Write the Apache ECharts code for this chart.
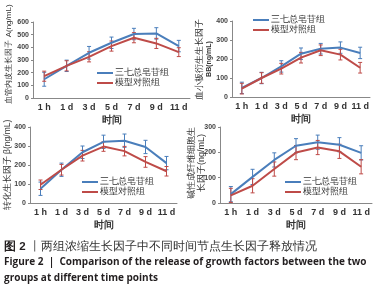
<!DOCTYPE html>
<html>
<head>
<meta charset="utf-8">
<script src="https://cdn.jsdelivr.net/npm/echarts@6/dist/echarts.min.js"></script>
<style>
html, body { margin: 0; padding: 0; background: #fff; }
#wrap { position: relative; width: 380px; height: 292px; }
#main, #text { position: absolute; left: 0; top: 0; width: 380px; height: 292px; }
#text { pointer-events: none; }
</style>
</head>
<body>
<div id="wrap">
  <div id="main"></div>
  <div id="text"></div>
</div>
<script>
var times = ['1 h', '1 d', '3 d', '5 d', '7 d', '9 d', '11 d'];
var groupNames = ['三七总皂苷组', '模型对照组'];

// VEGF-A
var vegfBlue = [148, 254, 357, 436, 505, 510, 410];
var vegfBlueErr = [55, 45, 50, 45, 45, 45, 45];
var vegfRed = [172, 254, 325, 410, 476, 431, 362];
var vegfRedErr = [40, 40, 40, 40, 40, 40, 35];
// PDGF-BB
var pdgfBlue = [48, 100, 161, 228, 254, 260, 232];
var pdgfBlueErr = [30, 30, 30, 30, 28, 30, 30];
var pdgfRed = [44, 100, 149, 207, 246, 223, 154];
var pdgfRedErr = [28, 28, 28, 28, 28, 28, 28];
// TGF-β
var tgfBlue = [75, 175, 267, 322, 328, 295, 210];
var tgfBlueErr = [35, 35, 33, 35, 35, 35, 35];
var tgfRed = [96, 175, 249, 297, 273, 216, 167];
var tgfRedErr = [25, 28, 28, 25, 25, 28, 25];
// bFGF
var fgfBlue = [35, 103, 170, 226, 240, 230, 198];
var fgfBlueErr = [30, 30, 28, 28, 28, 28, 28];
var fgfRed = [30, 68, 134, 199, 219, 204, 143];
var fgfRedErr = [28, 28, 28, 28, 28, 28, 28];

var yMax = [600, 400, 400, 300];
var yNames = [
  '{s|血管内皮生长因子 A(ng/mL)}',
  '{a|血小板衍生生长因子}\n{b|BB(ng/mL)}',
  '{m|转化生长因子 β(ng/mL)}',
  '{a|碱性成纤维细胞生}\n{a|长因子(ng/mL)}'
];
var yNamePos = [[9, 54], [204, 59], [8, 165], [197, 163]];

var blue = '#4a7ebb';
var red = '#be4b48';

var grids = [
  { left: 33, top: 22, width: 157, height: 76 },
  { left: 232, top: 21, width: 138, height: 76 },
  { left: 30, top: 127, width: 147, height: 76 },
  { left: 220, top: 127, width: 152, height: 76 }
];

var panels = [
  [vegfBlue, vegfBlueErr, vegfRed, vegfRedErr],
  [pdgfBlue, pdgfBlueErr, pdgfRed, pdgfRedErr],
  [tgfBlue, tgfBlueErr, tgfRed, tgfRedErr],
  [fgfBlue, fgfBlueErr, fgfRed, fgfRedErr]
];

function errData(vals, errs) {
  return vals.map(function (v, i) { return [i, v - errs[i], v + errs[i]]; });
}

function renderErr(params, api) {
  var lo = api.coord([api.value(0), api.value(1)]);
  var hi = api.coord([api.value(0), api.value(2)]);
  var c = api.visual('color');
  var w = 2;
  var st = { stroke: c, lineWidth: 1 };
  return {
    type: 'group',
    children: [
      { type: 'line', shape: { x1: lo[0], y1: lo[1], x2: hi[0], y2: hi[1] }, style: st },
      { type: 'line', shape: { x1: lo[0] - w, y1: lo[1], x2: lo[0] + w, y2: lo[1] }, style: st },
      { type: 'line', shape: { x1: hi[0] - w, y1: hi[1], x2: hi[0] + w, y2: hi[1] }, style: st }
    ]
  };
}

var xAxes = [], yAxes = [], series = [];
for (var p = 0; p < 4; p++) {
  xAxes.push({
    gridIndex: p,
    type: 'category',
    data: times,
    name: '时间',
    nameLocation: 'middle',
    nameGap: 17,
    nameTextStyle: { fontSize: 10, fontWeight: 'bold', color: '#333' },
    axisLine: { lineStyle: { color: '#888' } },
    axisTick: { length: 3, lineStyle: { color: '#888' } },
    axisLabel: { fontSize: 9, fontWeight: 'bold', color: '#333', margin: 5, interval: 0 }
  });
  yAxes.push({
    gridIndex: p,
    type: 'value',
    min: 0,
    max: yMax[p],
    interval: 100,
    axisLine: { show: true, lineStyle: { color: '#888' } },
    axisTick: { show: true, length: 2, lineStyle: { color: '#888' } },
    splitLine: { show: false },
    axisLabel: { show: true, hideOverlap: false, fontSize: 7, fontWeight: 'bold', color: '#444', margin: 4 }
  });
  var d = panels[p];
  series.push({
    name: groupNames[0], type: 'line', xAxisIndex: p, yAxisIndex: p,
    data: d[0], symbol: 'none', color: blue, lineStyle: { width: 2 }
  });
  series.push({
    name: groupNames[1], type: 'line', xAxisIndex: p, yAxisIndex: p,
    data: d[2], symbol: 'none', color: red, lineStyle: { width: 2 }
  });
  series.push({
    type: 'custom', xAxisIndex: p, yAxisIndex: p, color: blue, z: 3,
    data: errData(d[0], d[1]), renderItem: renderErr,
    encode: { x: 0, y: [1, 2] }
  });
  series.push({
    type: 'custom', xAxisIndex: p, yAxisIndex: p, color: red, z: 3,
    data: errData(d[2], d[3]), renderItem: renderErr,
    encode: { x: 0, y: [1, 2] }
  });
}

var legendPos = [[97, 68], [253, 15], [82, 177], [285, 177]];
var legendFont = [8.5, 9, 9, 9];
var legends = legendPos.map(function (pos, k) {
  return {
    data: groupNames,
    left: pos[0],
    top: pos[1],
    orient: 'vertical',
    itemGap: 0,
    itemWidth: 16,
    itemHeight: 2,
    icon: 'rect',
    padding: 0,
    selectedMode: false,
    textStyle: { fontSize: legendFont[k], color: '#333', padding: [0, 0, 0, -3], lineHeight: 10 }
  };
});

var chart = echarts.init(document.getElementById('main'));
chart.setOption({
  animation: false,
  backgroundColor: '#fff',
  grid: grids,
  xAxis: xAxes,
  yAxis: yAxes,
  legend: legends,
  series: series
});

// axis titles and caption on a transparent layer on top
var graphics = yNames.map(function (txt, k) {
  return {
    type: 'text',
    x: yNamePos[k][0],
    y: yNamePos[k][1],
    rotation: Math.PI / 2,
    style: {
      text: txt,
      align: 'center',
      verticalAlign: 'middle',
      rich: {
        s: { fontSize: 8, fill: '#333', lineHeight: 10, align: 'center' },
        m: { fontSize: 8.5, fill: '#333', lineHeight: 10, align: 'center' },
        a: { fontSize: 9, fill: '#333', lineHeight: 10, align: 'center' },
        b: { fontSize: 7, fontWeight: 'bold', fill: '#333', lineHeight: 9, align: 'center' }
      }
    }
  };
});
graphics.push(
  {
    type: 'text', left: 4, top: 241,
    style: {
      text: '{b|图 2} {s|丨}{t|两组浓缩生长因子中不同时间节点生长因子释放情况}',
      rich: {
        b: { fontSize: 11.5, fontWeight: 'bold', fill: '#231f20' },
        s: { fontSize: 11.5, fill: '#555' },
        t: { fontSize: 11.5, fill: '#333' }
      }
    }
  },
  {
    type: 'text', left: 4, top: 257,
    style: {
      text: 'Figure 2  |  Comparison of the release of growth factors between the two',
      font: 'bold 10px "Open Sans", sans-serif', fill: '#231f20'
    }
  },
  {
    type: 'text', left: 4, top: 273,
    style: {
      text: 'groups at different time points',
      font: 'bold 10px "Open Sans", sans-serif', fill: '#231f20'
    }
  }
);

var textChart = echarts.init(document.getElementById('text'));
textChart.setOption({
  animation: false,
  backgroundColor: 'transparent',
  graphic: graphics
});
</script>
</body>
</html>
